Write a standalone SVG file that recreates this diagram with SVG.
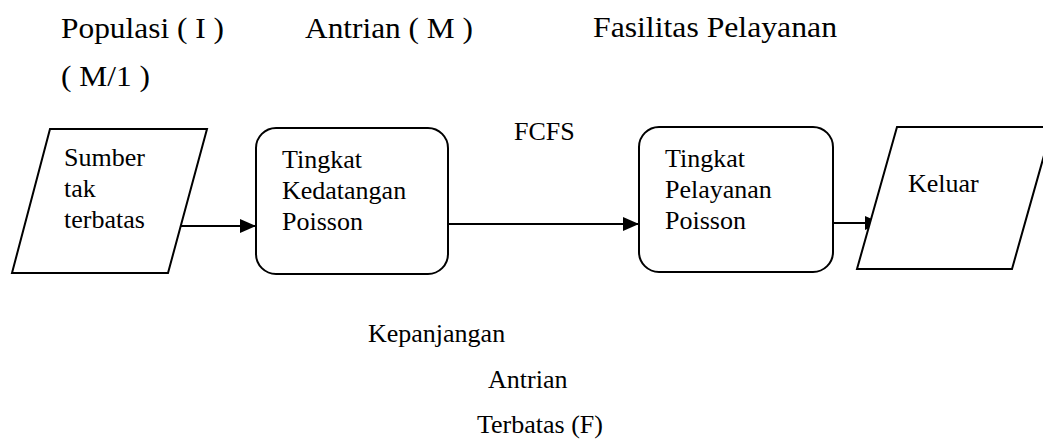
<svg xmlns="http://www.w3.org/2000/svg" width="1043" height="440" viewBox="0 0 1043 440" font-family="'Liberation Serif', 'Times New Roman', Times, serif">
<defs>
<style>
text{font-family:'Liberation Serif','Times New Roman',Times,serif;fill:#000}
.h{font-size:30px}
.b{font-size:26px}
.n{fill:#fff;stroke:#000;stroke-width:2}
.c{fill:none;stroke:#000;stroke-width:2}
</style>
<marker id="ah" viewBox="0 0 16 14" refX="16" refY="7" markerWidth="16" markerHeight="14" markerUnits="userSpaceOnUse" orient="auto">
<path d="M0,0 L16,7 L0,14 Z" fill="#000"/>
</marker>
</defs>
<rect width="1043" height="440" fill="#fff"/>
<g id="labels">
<text class="h" x="61" y="38" textLength="163" lengthAdjust="spacingAndGlyphs">Populasi ( I )</text>
<text class="h" x="305" y="38" textLength="168" lengthAdjust="spacingAndGlyphs">Antrian ( M )</text>
<text class="h" x="593" y="37" textLength="244" lengthAdjust="spacingAndGlyphs">Fasilitas Pelayanan</text>
<text class="h" x="61" y="86" textLength="89" lengthAdjust="spacingAndGlyphs">( M/1 )</text>
<text class="b" x="514" y="140">FCFS</text>
<text class="b" x="368" y="342" font-size="25">Kepanjangan</text>
<text class="b" x="488" y="388" font-size="25">Antrian</text>
<text class="b" x="477" y="433" font-size="25">Terbatas (F)</text>
</g>
<g id="connectors">
<line class="c" x1="181" y1="226" x2="256" y2="226" marker-end="url(#ah)"/>
<line class="c" x1="448" y1="224" x2="639" y2="224" marker-end="url(#ah)"/>
<line class="c" x1="833" y1="223" x2="881" y2="223" marker-end="url(#ah)"/>
</g>
<g id="sumber">
<polygon class="n" points="50,129 207,129 168,273 12,273"/>
<text class="b" x="64" y="166">Sumber</text>
<text class="b" x="64" y="197">tak</text>
<text class="b" x="64" y="228">terbatas</text>
</g>
<g id="kedatangan">
<rect class="n" x="256" y="128" width="192" height="146" rx="20" ry="20"/>
<text class="b" x="282" y="168">Tingkat</text>
<text class="b" x="282" y="199">Kedatangan</text>
<text class="b" x="282" y="230">Poisson</text>
</g>
<g id="pelayanan">
<rect class="n" x="639" y="127" width="194" height="145" rx="20" ry="20"/>
<text class="b" x="665" y="167">Tingkat</text>
<text class="b" x="665" y="198">Pelayanan</text>
<text class="b" x="665" y="229">Poisson</text>
</g>
<g id="keluar">
<polygon class="n" points="897,127 1052,127 1012,269 857,269"/>
<text class="b" x="908" y="192" font-size="28">Keluar</text>
</g>
</svg>
